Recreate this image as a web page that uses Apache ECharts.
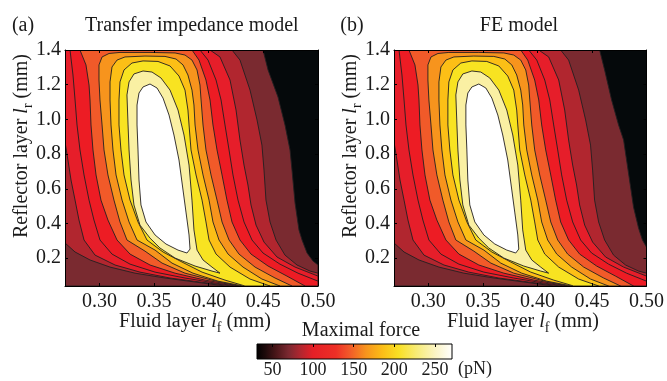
<!DOCTYPE html>
<html>
<head>
<meta charset="utf-8">
<script src="https://cdn.jsdelivr.net/npm/echarts@6/dist/echarts.min.js"></script>
<style>
html, body { margin: 0; padding: 0; background: #fff; }
#chart { width: 667px; height: 381px; }
</style>
</head>
<body>
<div id="chart"></div>
<script>
// axes
const lfRange = [0.2685, 0.5];
const lrRange = [0.04, 1.4];
const lfTicks = [0.30, 0.35, 0.40, 0.45, 0.50];
const lrTicks = [0.2, 0.4, 0.6, 0.8, 1.0, 1.2, 1.4];
const forceRange = [31, 271];
const forceTicks = [50, 100, 150, 200, 250];

// fill colour of each band, lowest first
const bandColors = ['#05090b', '#7a2a30', '#b1262f', '#e61e2a', '#ed1c24', '#f15a29',
                    '#f7941d', '#fcbf16', '#f8e321', '#faf0a3', '#ffffff'];
// colorbar
const cbarStops = [31, 42, 55, 70, 85, 100, 128, 145, 165, 185, 205, 228, 250, 271];
const cbarColors = ['#000000', '#1e0a0b', '#4a1619', '#7a2830', '#b1262f', '#e51f27', '#ee2f26',
                    '#f15a29', '#f7941d', '#fbbd17', '#f9e024', '#f7ec7a', '#fbf4c4', '#ffffff'];

// contour lines, [lf (mm), lr (mm)]
// L1..L5 come in a left (l) and right (r) branch, L6..L10 are single paths
const aL1 = [[0.4497,1.400],[0.4543,1.285],[0.4634,1.129],[0.4698,0.968],[0.4744,0.824],[0.4762,0.708],
             [0.4790,0.518],[0.4826,0.363],[0.4854,0.305],[0.4900,0.230],[0.4954,0.184],[0.5000,0.161]];
const bL1 = [[0.4570,1.400],[0.4616,1.285],[0.4680,1.112],[0.4744,0.968],[0.4790,0.881],[0.4835,0.691],
             [0.4881,0.495],[0.4927,0.374],[0.4963,0.305],[0.5000,0.264]];
const L2r = [[0.4213,1.400],[0.4286,1.342],[0.4378,1.169],[0.4442,0.997],[0.4487,0.852],[0.4506,0.708],
             [0.4524,0.535],[0.4561,0.409],[0.4616,0.305],[0.4698,0.218],[0.4808,0.161],[0.4927,0.126],[0.5000,0.114]];
const L2l = [[0.2685,0.288],[0.2777,0.236],[0.2914,0.190],[0.3097,0.149],[0.3326,0.114],[0.3600,0.086],
             [0.3875,0.063],[0.4149,0.040]];
const L3r = [[0.4012,1.400],[0.4103,1.360],[0.4195,1.227],[0.4250,1.054],[0.4286,0.881],[0.4323,0.737],
             [0.4359,0.622],[0.4387,0.507],[0.4433,0.391],[0.4506,0.293],[0.4625,0.207],[0.4790,0.149],[0.5000,0.097]];
const L3l = [[0.2685,0.870],[0.2712,0.766],[0.2740,0.651],[0.2777,0.535],[0.2813,0.420],[0.2859,0.305],
             [0.2960,0.218],[0.3143,0.161],[0.3371,0.120],[0.3646,0.086],[0.3920,0.063],[0.4213,0.040]];
const L4l = [[0.2731,1.400],[0.2758,1.256],[0.2777,1.112],[0.2795,0.968],[0.2822,0.824],[0.2859,0.680],
             [0.2905,0.535],[0.2950,0.420],[0.3005,0.305],[0.3115,0.224],[0.3280,0.166],[0.3509,0.120],
             [0.3783,0.086],[0.4058,0.057],[0.4250,0.040]];
const L4r = [[0.3920,1.400],[0.3994,1.342],[0.4067,1.227],[0.4113,1.112],[0.4149,0.968],[0.4186,0.824],
             [0.4222,0.680],[0.4268,0.535],[0.4323,0.409],[0.4396,0.305],[0.4497,0.230],[0.4652,0.166],
             [0.4817,0.114],[0.5000,0.068]];
const L5l = [[0.2822,1.400],[0.2877,1.314],[0.2905,1.198],[0.2914,1.112],[0.2923,0.968],[0.2941,0.824],
             [0.2969,0.680],[0.3014,0.535],[0.3078,0.420],[0.3161,0.305],[0.3280,0.224],[0.3463,0.161],
             [0.3692,0.114],[0.3966,0.074],[0.4277,0.040]];
const L5r = [[0.3847,1.400],[0.3911,1.342],[0.3975,1.227],[0.4012,1.112],[0.4039,0.968],[0.4076,0.824],
             [0.4122,0.680],[0.4167,0.535],[0.4213,0.409],[0.4286,0.305],[0.4387,0.224],[0.4543,0.155],
             [0.4716,0.097],[0.4881,0.040]];
const L6 = [[0.4295,0.040],[0.4030,0.074],[0.3783,0.114],[0.3573,0.172],[0.3417,0.241],[0.3252,0.305],
            [0.3188,0.409],[0.3133,0.535],[0.3078,0.680],[0.3042,0.824],[0.3024,0.968],[0.3005,1.112],
            [0.2996,1.227],[0.2996,1.314],[0.3024,1.360],[0.3088,1.380],[0.3188,1.386],[0.3463,1.386],
            [0.3692,1.383],[0.3783,1.371],[0.3847,1.342],[0.3893,1.285],[0.3920,1.198],[0.3930,1.112],
            [0.3948,0.968],[0.3975,0.824],[0.4021,0.680],[0.4076,0.535],[0.4122,0.409],[0.4186,0.305],
            [0.4277,0.224],[0.4424,0.149],[0.4607,0.086],[0.4762,0.040]];
const L7 = [[0.4314,0.040],[0.4085,0.068],[0.3856,0.114],[0.3664,0.172],[0.3509,0.247],[0.3344,0.305],
            [0.3271,0.409],[0.3207,0.535],[0.3152,0.680],[0.3124,0.824],[0.3106,0.968],[0.3097,1.112],
            [0.3097,1.216],[0.3115,1.302],[0.3161,1.342],[0.3234,1.360],[0.3417,1.365],[0.3600,1.363],
            [0.3701,1.348],[0.3765,1.314],[0.3810,1.256],[0.3847,1.169],[0.3865,1.083],[0.3875,0.968],
            [0.3902,0.824],[0.3948,0.680],[0.4003,0.535],[0.4039,0.409],[0.4094,0.305],[0.4177,0.224],
            [0.4314,0.149],[0.4487,0.080],[0.4652,0.040]];
const L8 = [[0.4332,0.040],[0.4149,0.074],[0.3939,0.120],[0.3756,0.178],[0.3582,0.236],[0.3435,0.305],
            [0.3353,0.409],[0.3280,0.535],[0.3225,0.680],[0.3197,0.824],[0.3179,0.968],[0.3179,1.112],
            [0.3188,1.216],[0.3225,1.285],[0.3298,1.325],[0.3399,1.337],[0.3536,1.334],[0.3646,1.308],
            [0.3728,1.250],[0.3783,1.169],[0.3810,1.054],[0.3820,0.968],[0.3838,0.824],[0.3884,0.680],
            [0.3939,0.535],[0.3975,0.409],[0.4003,0.305],[0.4067,0.224],[0.4195,0.149],[0.4378,0.080],
            [0.4561,0.040]];
const L9 = [[0.3399,1.279],[0.3316,1.262],[0.3271,1.216],[0.3252,1.141],[0.3262,0.968],[0.3271,0.824],
            [0.3289,0.651],[0.3316,0.507],[0.3371,0.391],[0.3463,0.316],[0.3554,0.259],[0.3692,0.201],
            [0.3875,0.155],[0.4030,0.126],[0.4103,0.114],[0.4030,0.149],[0.3948,0.190],[0.3893,0.247],
            [0.3865,0.363],[0.3847,0.535],[0.3820,0.737],[0.3774,0.910],[0.3719,1.054],[0.3646,1.169],
            [0.3563,1.239],[0.3481,1.273]];
const L10 = [[0.3463,1.204],[0.3399,1.187],[0.3362,1.152],[0.3344,1.083],[0.3344,0.968],[0.3353,0.824],
             [0.3362,0.651],[0.3380,0.507],[0.3426,0.409],[0.3509,0.334],[0.3609,0.282],[0.3719,0.247],
             [0.3801,0.230],[0.3829,0.253],[0.3820,0.334],[0.3792,0.466],[0.3765,0.593],[0.3728,0.766],
             [0.3682,0.910],[0.3637,1.025],[0.3582,1.123],[0.3527,1.181]];

const FONT = '"Liberation Serif", "DejaVu Serif", serif';
const INK = '#1a1a1a';

const TL = [lfRange[0], lrRange[1]], TR = [lfRange[1], lrRange[1]];
const BR = [lfRange[1], lrRange[0]], BL = [lfRange[0], lrRange[0]];
const rev = a => a.slice().reverse();

// region >= level k, painted lowest first
function buildRegions(L1) {
    return [
        [TL, TR, BR, BL],
        [TL, ...L1, BR, BL],
        [TL, ...L2r, BR, ...rev(L2l)],
        [TL, ...L3r, BR, ...rev(L3l)],
        [...L4l, BR, ...rev(L4r)],
        [...L5l, ...rev(L5r)],
        L6, L7, L8, L9, L10
    ];
}
const regionsA = buildRegions(aL1);
const regionsB = buildRegions(bL1);

function contourSeries(regions, idx) {
    return {
        type: 'custom',
        xAxisIndex: idx * 2,
        yAxisIndex: idx * 2,
        clip: true,
        silent: true,
        data: regions.map((r, i) => i),
        renderItem: function (params, api) {
            var k = params.dataIndex;
            var pts = regions[k].map(p => api.coord(p));
            return {
                type: 'polygon',
                shape: { points: pts },
                style: { fill: bandColors[k], stroke: k ? '#231f20' : 'none', lineWidth: 0.9 }
            };
        }
    };
}

function xAxes(grid) {
    var base = {
        gridIndex: grid, type: 'value', min: lfRange[0], max: lfRange[1], z: 5,
        splitLine: { show: false },
        axisLine: { show: true, onZero: false, lineStyle: { color: '#000', width: 1 } },
        axisTick: { inside: true, length: 3, customValues: lfTicks, lineStyle: { color: '#000' } }
    };
    return [
        Object.assign({}, base, {
            position: 'bottom',
            axisLabel: { customValues: lfTicks, formatter: v => v.toFixed(2), fontFamily: FONT,
                         fontSize: 20, color: INK, margin: 6 }
        }),
        Object.assign({}, base, { position: 'top', axisLabel: { show: false } })
    ];
}
function yAxes(grid) {
    var base = {
        gridIndex: grid, type: 'value', min: lrRange[0], max: lrRange[1], z: 5,
        splitLine: { show: false },
        axisLine: { show: true, onZero: false, lineStyle: { color: '#000', width: 1 } },
        axisTick: { inside: true, length: 3, customValues: lrTicks, lineStyle: { color: '#000' } }
    };
    return [
        Object.assign({}, base, {
            position: 'left',
            axisLabel: { customValues: lrTicks, formatter: v => v.toFixed(1), fontFamily: FONT,
                         fontSize: 20, color: INK, margin: 4 }
        }),
        Object.assign({}, base, { position: 'right', axisLabel: { show: false } })
    ];
}

function label(x, y, text, size, align, rotation) {
    return {
        type: 'text', x: x, y: y, z: 20, rotation: rotation || 0,
        style: {
            text: text, fontFamily: FONT, fontSize: size, fill: INK,
            align: align || 'center', verticalAlign: 'middle', lineHeight: size + 6,
            rich: {
                i: { fontStyle: 'italic', fontFamily: FONT, fontSize: size, color: INK },
                s: { fontFamily: FONT, fontSize: Math.round(size * 0.7), color: INK,
                     verticalAlign: 'bottom', lineHeight: Math.round(size * 0.7) }
            }
        }
    };
}

const chart = echarts.init(document.getElementById('chart'), null, { renderer: 'canvas' });
chart.setOption({
    animation: false,
    backgroundColor: '#fff',
    grid: [
        { left: 65, top: 50, width: 253, height: 236 },
        { left: 394, top: 50, width: 253, height: 236 },
        { left: 257, top: 344, width: 195, height: 15 }
    ],
    xAxis: [...xAxes(0), ...xAxes(1), {
        gridIndex: 2, type: 'value', min: forceRange[0], max: forceRange[1], z: 5,
        position: 'bottom',
        splitLine: { show: false },
        axisLine: { show: false },
        axisTick: { show: false },
        axisLabel: { customValues: forceTicks, fontFamily: FONT, fontSize: 18, color: INK, margin: 2 }
    }, {
        gridIndex: 2, type: 'value', min: forceRange[0], max: forceRange[1], z: 5,
        position: 'top',
        splitLine: { show: false },
        axisLine: { show: false },
        axisLabel: { show: false },
        axisTick: { inside: true, length: 3, customValues: forceTicks, lineStyle: { color: '#000' } }
    }],
    yAxis: [...yAxes(0), ...yAxes(1), {
        gridIndex: 2, type: 'value', min: 0, max: 1, show: false
    }],
    series: [
        contourSeries(regionsA, 0),
        contourSeries(regionsB, 1),
        {
            type: 'custom', xAxisIndex: 4, yAxisIndex: 4, silent: true,
            data: [0],
            renderItem: function (params, api) {
                var p0 = api.coord([forceRange[0], 1]);
                var p1 = api.coord([forceRange[1], 0]);
                var span = forceRange[1] - forceRange[0];
                var stops = cbarStops.map((v, i) => ({ offset: (v - forceRange[0]) / span, color: cbarColors[i] }));
                return {
                    type: 'rect',
                    shape: { x: p0[0], y: p0[1], width: p1[0] - p0[0], height: p1[1] - p0[1] },
                    style: { fill: new echarts.graphic.LinearGradient(0, 0, 1, 0, stops), stroke: '#000', lineWidth: 1 }
                };
            }
        }
    ],
    graphic: [
        label(23, 26, '(a)', 20),
        label(85, 26, 'Transfer impedance model', 20, 'left'),
        label(352, 26, '(b)', 20),
        label(519, 26, 'FE model', 20),
        label(22, 146, 'Reflector layer {i|l}{s|r} (mm)', 20, 'center', Math.PI / 2),
        label(351, 146, 'Reflector layer {i|l}{s|r} (mm)', 20, 'center', Math.PI / 2),
        label(195, 322, 'Fluid layer {i|l}{s|f} (mm)', 20),
        label(523, 322, 'Fluid layer {i|l}{s|f} (mm)', 20),
        label(361, 331, 'Maximal force', 20),
        label(475, 369, '(pN)', 18)
    ]
});
</script>
</body>
</html>
